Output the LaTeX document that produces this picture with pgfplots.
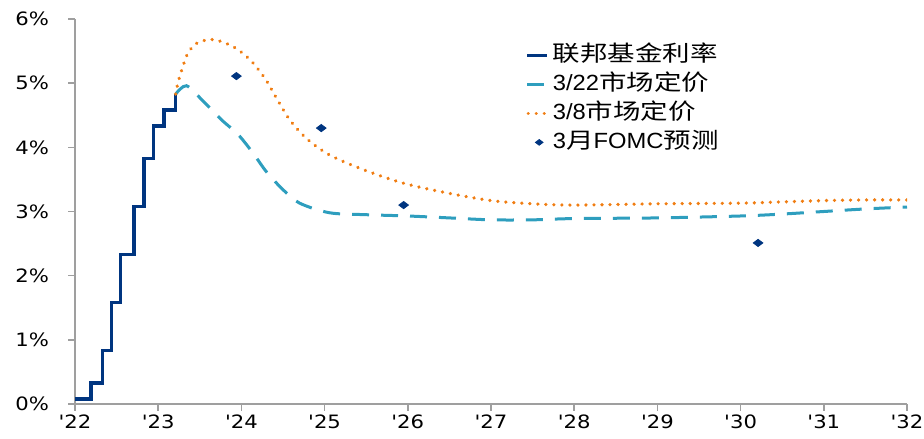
\documentclass[border=0pt]{standalone}
\usepackage{pgfplots}
\pgfplotsset{compat=1.18}
\usepackage{fontspec}
\setmainfont[FakeStretch=1.08]{Liberation Sans}
\newfontfamily\cjk[FakeStretch=1.25]{Noto Sans CJK SC}
\newfontfamily\tickfont[FakeStretch=1.15]{DejaVu Sans}
\usetikzlibrary{calc}
\definecolor{navy}{RGB}{0,53,128}
\definecolor{teal2}{RGB}{46,158,190}
\definecolor{orng}{RGB}{240,125,18}
\begin{document}
\begin{tikzpicture}
\begin{axis}[
  scale only axis,
  width=416pt, height=192.5pt,
  xmin=2022, xmax=2032, ymin=0, ymax=6,
  axis x line*=bottom, axis y line*=left,
  axis line style={gray!75, line width=0.8pt, -},
  tick align=outside, major tick length=3.5pt,
  tick style={gray!75, line width=0.8pt},
  xtick={2022,2023,...,2032},
  xticklabels={'22,'23,'24,'25,'26,'27,'28,'29,'30,'31,'32},
  ytick={0,1,2,3,4,5,6},
  yticklabels={0\%,1\%,2\%,3\%,4\%,5\%,6\%},
  ticklabel style={font=\tickfont\fontsize{9.2}{11}\selectfont, text=black},
  xticklabel style={yshift=-0.5pt, inner ysep=1pt},
  yticklabel style={xshift=-6pt},
  /pgf/number format/assume math mode=true,
  legend style={draw=none, fill=none, at={(0.541,0.9325)}, anchor=north west,
    font=\fontsize{11}{13}\selectfont, row sep=4.5pt, inner sep=0pt,
    nodes={inner xsep=2pt, inner ysep=0pt, text height=8pt, text depth=2pt}},
  legend cell align=left,
]
\addplot[navy, line width=1.7pt, const plot,
  legend image code/.code={\draw[navy,line width=1.7pt] (0pt,0pt) -- (10pt,0pt);}]
  coordinates {(2022.00,0.08) (2022.19,0.33) (2022.33,0.83) (2022.44,1.58) (2022.55,2.33) (2022.71,3.08) (2022.83,3.83) (2022.94,4.33) (2023.07,4.58) (2023.21,4.83)};
\addlegendentry{{\cjk 联邦基金利率}}
\addplot[teal2, line width=1.5pt, smooth, dash pattern=on 8.5pt off 6pt,
  legend image code/.code={\draw[teal2,line width=1.5pt] (0pt,0pt) -- (10pt,0pt);}]
  coordinates {(2023.21,4.83) (2023.34,4.96) (2023.54,4.72) (2023.76,4.43) (2023.96,4.20) (2024.14,3.91) (2024.30,3.62) (2024.50,3.34) (2024.70,3.13) (2025.06,2.98) (2025.5,2.95) (2026,2.93) (2026.5,2.90) (2027,2.87) (2027.5,2.87) (2028,2.89) (2029,2.90) (2030,2.93) (2030.5,2.96) (2031,3.00) (2031.5,3.04) (2032,3.07)};
\addlegendentry{3/22{\cjk 市场定价}}
\addplot[orng, line width=1.8pt, smooth, line cap=round, dash pattern=on 0.01pt off 4pt,
  legend image code/.code={\draw[orng,line width=1.6pt,line cap=round,dash pattern=on 0.01pt off 4pt] (0.5pt,0pt) -- (10pt,0pt);}]
  coordinates {(2023.21,4.83) (2023.24,5.02) (2023.29,5.23) (2023.35,5.45) (2023.46,5.62) (2023.66,5.68) (2023.90,5.57) (2024.10,5.37) (2024.28,5.08) (2024.42,4.77) (2024.58,4.43) (2024.78,4.14) (2025.06,3.88) (2025.47,3.65) (2025.95,3.44) (2026.47,3.29) (2027,3.17) (2027.5,3.12) (2028,3.10) (2029,3.12) (2030,3.13) (2030.5,3.15) (2031,3.17) (2031.5,3.18) (2032,3.18)};
\addlegendentry{3/8{\cjk 市场定价}}
\addplot[only marks, mark=diamond*, mark size=2.4pt, navy, mark options={rotate=90},
  legend image code/.code={\draw[navy,fill=navy] plot[mark=diamond*,mark size=1.9pt,mark options={rotate=90}] coordinates {(6pt,0pt)};}]
  coordinates {(2023.94,5.11) (2024.96,4.30) (2025.95,3.10) (2030.21,2.51)};
\addlegendentry{3{\cjk 月}FOMC{\cjk 预测}}
\end{axis}
\pgfresetboundingbox
\path ($(current axis.south west)+(-37.5pt,-17pt)$) rectangle ($(current axis.north east)+(8.5pt,9.5pt)$);
\end{tikzpicture}
\end{document}
